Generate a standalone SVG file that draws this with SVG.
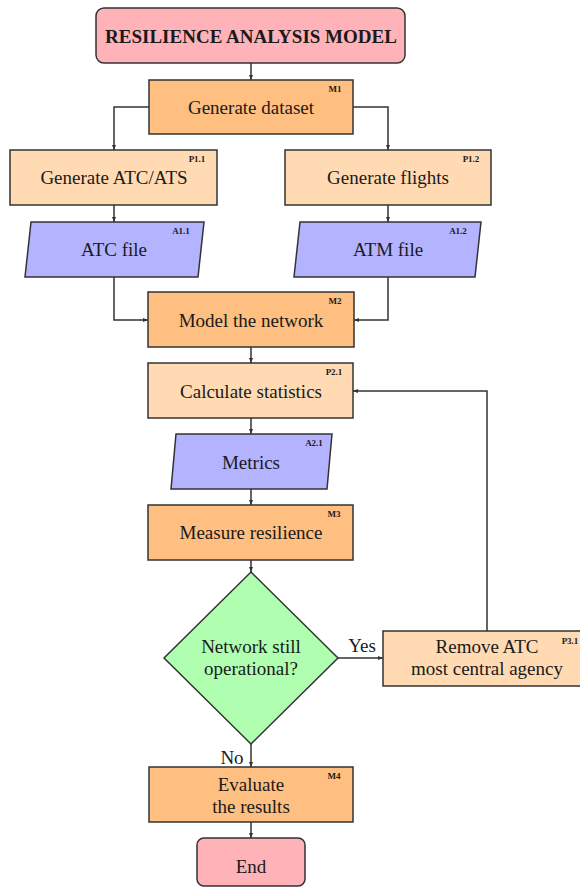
<svg xmlns="http://www.w3.org/2000/svg" width="580" height="889" viewBox="0 0 580 889">
<style>
.box{stroke:#333;stroke-width:1.5}
.term{fill:#ffb3b8}
.m{fill:#ffbf80}
.p{fill:#ffdab3}
.a{fill:#b3b3ff}
.d{fill:#b0ffb0}
.t{font-family:"Liberation Serif","Times New Roman",serif;font-size:19px;fill:#1a1a1a;text-anchor:middle;dominant-baseline:central}
.tag{font-family:"Liberation Serif","Times New Roman",serif;font-size:9px;font-weight:bold;fill:#1a1a1a;text-anchor:middle}
.c{fill:none;stroke:#333;stroke-width:1.5}
</style>
<defs>
<marker id="ah" viewBox="0 0 10 10" refX="10" refY="5" markerWidth="5" markerHeight="5" orient="auto" markerUnits="userSpaceOnUse">
<path d="M0,1 L10,5 L0,9 Z" fill="#333"/>
</marker>
</defs>
<rect width="580" height="889" fill="#fff"/>
<g id="connectors">
<path class="c" d="M251,63 V80" marker-end="url(#ah)"/>
<path class="c" d="M149,107 H114 V150" marker-end="url(#ah)"/>
<path class="c" d="M353,107 H388 V150" marker-end="url(#ah)"/>
<path class="c" d="M114,205 V222" marker-end="url(#ah)"/>
<path class="c" d="M388,205 V222" marker-end="url(#ah)"/>
<path class="c" d="M114,277 V320 H148" marker-end="url(#ah)"/>
<path class="c" d="M388,277 V320 H354" marker-end="url(#ah)"/>
<path class="c" d="M251,347 V363" marker-end="url(#ah)"/>
<path class="c" d="M251,418 V434" marker-end="url(#ah)"/>
<path class="c" d="M251,489 V505" marker-end="url(#ah)"/>
<path class="c" d="M251,560 V572" marker-end="url(#ah)"/>
<path class="c" d="M338,658 H383" marker-end="url(#ah)"/>
<path class="c" d="M487,631 V391 H353" marker-end="url(#ah)"/>
<path class="c" d="M251,744 V767" marker-end="url(#ah)"/>
<path class="c" d="M251,822 V838" marker-end="url(#ah)"/>
<text class="t" x="362" y="645">Yes</text>
<text class="t" x="232" y="757">No</text>
</g>
<g id="start">
<rect class="box term" x="96" y="8" width="309" height="55" rx="8"/>
<text class="t" x="251" y="36" font-weight="bold">RESILIENCE ANALYSIS MODEL</text>
</g>
<g id="M1">
<rect class="box m" x="149" y="80" width="204" height="54"/>
<text class="t" x="251" y="107">Generate dataset</text>
<text class="tag" x="335" y="92">M1</text>
</g>
<g id="P1.1">
<rect class="box p" x="10" y="150" width="207" height="55"/>
<text class="t" x="114" y="177">Generate ATC/ATS</text>
<text class="tag" x="197" y="162">P1.1</text>
</g>
<g id="P1.2">
<rect class="box p" x="285" y="150" width="206" height="55"/>
<text class="t" x="388" y="177">Generate flights</text>
<text class="tag" x="471" y="162">P1.2</text>
</g>
<g id="A1.1">
<polygon class="box a" points="31,222 204,222 198,277 25,277"/>
<text class="t" x="114" y="249">ATC file</text>
<text class="tag" x="181" y="234">A1.1</text>
</g>
<g id="A1.2">
<polygon class="box a" points="300,222 481,222 475,277 294,277"/>
<text class="t" x="388" y="249">ATM file</text>
<text class="tag" x="458" y="234">A1.2</text>
</g>
<g id="M2">
<rect class="box m" x="148" y="292" width="206" height="55"/>
<text class="t" x="251" y="320">Model the network</text>
<text class="tag" x="335" y="304">M2</text>
</g>
<g id="P2.1">
<rect class="box p" x="148" y="363" width="205" height="55"/>
<text class="t" x="251" y="391">Calculate statistics</text>
<text class="tag" x="334" y="375">P2.1</text>
</g>
<g id="A2.1">
<polygon class="box a" points="176,434 332,434 327,489 171,489"/>
<text class="t" x="251" y="462">Metrics</text>
<text class="tag" x="314" y="446">A2.1</text>
</g>
<g id="M3">
<rect class="box m" x="148" y="505" width="205" height="55"/>
<text class="t" x="251" y="532">Measure resilience</text>
<text class="tag" x="334" y="517">M3</text>
</g>
<g id="decision">
<polygon class="box d" points="251,572 338,658 251,744 164,658"/>
<text class="t" x="251" y="646">Network still</text>
<text class="t" x="251" y="668">operational?</text>
</g>
<g id="P3.1">
<rect class="box p" x="383" y="631" width="206" height="55"/>
<text class="t" x="487" y="646">Remove ATC</text>
<text class="t" x="487" y="668">most central agency</text>
<text class="tag" x="570" y="644">P3.1</text>
</g>
<g id="M4">
<rect class="box m" x="149" y="767" width="204" height="55"/>
<text class="t" x="251" y="784">Evaluate</text>
<text class="t" x="251" y="806">the results</text>
<text class="tag" x="334" y="779">M4</text>
</g>
<g id="end">
<rect class="box term" x="197" y="838" width="108" height="48" rx="7"/>
<text class="t" x="251" y="866">End</text>
</g>
</svg>
